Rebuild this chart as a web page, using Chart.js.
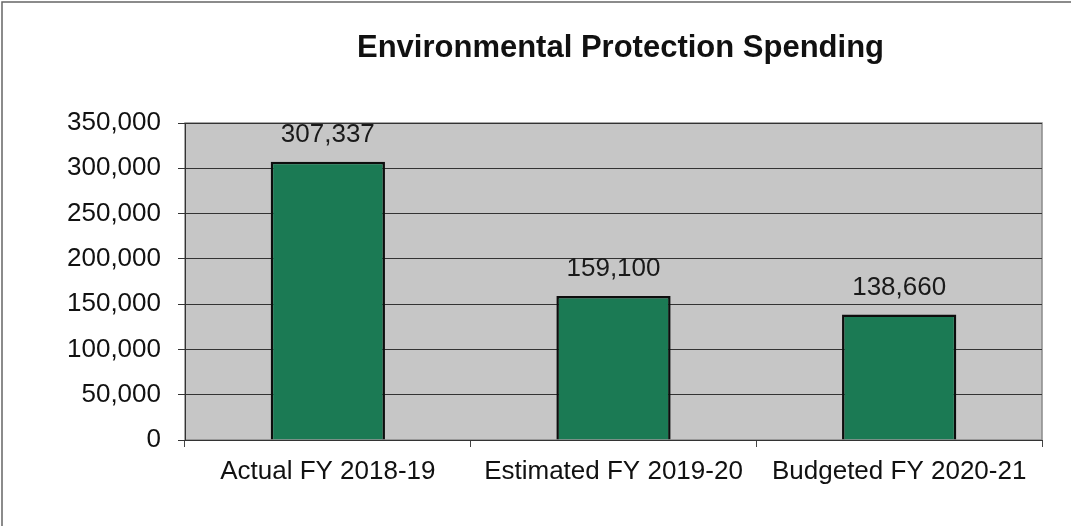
<!DOCTYPE html>
<html>
<head>
<meta charset="utf-8">
<title>Environmental Protection Spending</title>
<script src="https://cdn.jsdelivr.net/npm/chart.js@4.4.1/dist/chart.umd.min.js"></script>
<style>
  html, body { margin: 0; padding: 0; background: #ffffff; }
  #wrap { width: 1071px; height: 526px; position: relative; }
</style>
</head>
<body>
<div id="wrap"><canvas id="spending"></canvas></div>
<script>
// spending by fiscal year
const categories = ['Actual FY 2018-19', 'Estimated FY 2019-20', 'Budgeted FY 2020-21'];
const spending = [307337, 159100, 138660];
const yTicks = [0, 50000, 100000, 150000, 200000, 250000, 300000, 350000];

const FONT = '"Liberation Sans", Arial, Helvetica, sans-serif';
const fmt = v => v.toLocaleString('en-US');

// gray plot background, outer frame and the title
const framePlugin = {
    id: 'frame',
    beforeDraw(chart) {
        const { ctx, chartArea: a } = chart;
        ctx.save();
        ctx.fillStyle = '#c6c6c6';
        ctx.fillRect(a.left, a.top, a.right - a.left, a.bottom - a.top);
        ctx.strokeStyle = '#8a8a8a';
        ctx.lineWidth = 1.5;
        ctx.strokeRect(a.left, a.top, a.right - a.left, a.bottom - a.top);
        // page frame
        ctx.strokeStyle = '#666';
        ctx.lineWidth = 1.5;
        ctx.strokeRect(2, 2, chart.width + 10, chart.height + 10);
        ctx.restore();
    },
    afterDraw(chart) {
        const { ctx, chartArea: a } = chart;
        ctx.save();
        ctx.fillStyle = '#111';
        ctx.font = 'bold 31px ' + FONT;
        ctx.textAlign = 'center';
        ctx.textBaseline = 'middle';
        ctx.fillText('Environmental Protection Spending', (a.left + a.right) / 2 + 7, 48);
        ctx.restore();
    }
};

// value labels above each bar
const valueLabels = {
    id: 'valueLabels',
    afterDatasetsDraw(chart) {
        const { ctx } = chart;
        const meta = chart.getDatasetMeta(0);
        ctx.save();
        ctx.fillStyle = '#1a1a1a';
        ctx.font = '26px ' + FONT;
        ctx.textAlign = 'center';
        ctx.textBaseline = 'middle';
        meta.data.forEach((bar, i) => {
            ctx.fillText(fmt(spending[i]), bar.x, bar.y - 27);
        });
        ctx.restore();
    }
};

new Chart(document.getElementById('spending'), {
    type: 'bar',
    data: {
        labels: categories,
        datasets: [{
            data: spending,
            backgroundColor: '#1b7a54',
            borderColor: '#0d0d0d',
            borderWidth: 2.5,
            categoryPercentage: 0.8,
            barPercentage: 0.5
        }]
    },
    options: {
        responsive: true,
        maintainAspectRatio: false,
        animation: false,
        layout: { padding: { top: 123, right: 29, bottom: 36, left: 0 } },
        plugins: {
            legend: { display: false },
            title: { display: false },
            tooltip: { enabled: false }
        },
        scales: {
            x: {
                grid: {
                    offset: true,
                    drawOnChartArea: false,
                    drawTicks: true,
                    tickLength: 7,
                    color: '#444'
                },
                border: { color: '#333', width: 1 },
                ticks: {
                    color: '#111',
                    font: { family: FONT, size: 26 },
                    padding: 9,
                    maxRotation: 0
                },
                afterFit(scale) { scale.height = 50; }
            },
            y: {
                min: 0,
                max: 350000,
                afterBuildTicks(scale) { scale.ticks = yTicks.map(v => ({ value: v })); },
                grid: { color: '#333', lineWidth: 1, tickLength: 7 },
                border: { color: '#333', width: 1 },
                ticks: {
                    color: '#111',
                    font: { family: FONT, size: 26 },
                    padding: 17,
                    callback: v => fmt(v)
                },
                afterFit(scale) { scale.width = 185; }
            }
        }
    },
    plugins: [framePlugin, valueLabels]
});
</script>
</body>
</html>
